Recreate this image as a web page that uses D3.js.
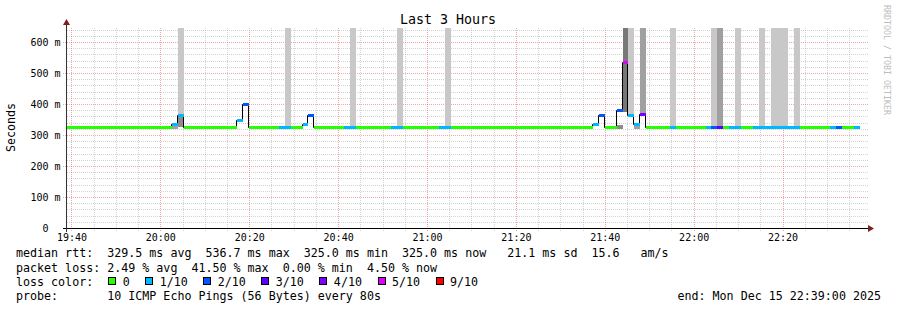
<!DOCTYPE html>
<html>
<head>
<meta charset="utf-8">
<script src="https://cdn.jsdelivr.net/npm/d3@7/dist/d3.min.js"></script>
<style>
  body { margin: 0; background: #fff; }
  svg { display: block; }
  text { font-family: "DejaVu Sans Mono", monospace; white-space: pre; fill: #000; }
</style>
</head>
<body>
<svg id="chart"></svg>
<script>
var width = 897;
var height = 310;

// smokeping probe, one step = 80 s, 10 pings per step
var stepSeconds = 80;
var firstStep = new Date(2025, 11, 15, 19, 38, 40);
var viewStart = new Date(2025, 11, 15, 19, 39, 0);
var viewEnd = new Date(2025, 11, 15, 22, 39, 0);

// median rtt per step (seconds)
var median = [
  .325,.325,.325,.325,.325,.325,.325,.325,.325,.325,
  .325,.325,.325,.325,.325,.325,.325,.325,.335,.3635,
  .325,.325,.325,.325,.325,.325,.325,.325,.325,.347,
  .401,.325,.325,.325,.325,.325,.325,.325,.325,.325,
  .337,.365,.325,.325,.325,.325,.325,.325,.325,.325,
  .325,.325,.325,.325,.325,.325,.325,.325,.325,.325,
  .325,.325,.325,.325,.325,.325,.325,.325,.325,.325,
  .325,.325,.325,.325,.325,.325,.325,.325,.325,.325,
  .325,.325,.325,.325,.325,.325,.325,.325,.325,.336,
  .365,.325,.325,.380,.5367,.365,.336,.367,.325,.325,
  .325,.325,.325,.325,.325,.325,.325,.325,.325,.325,
  .325,.325,.325,.325,.325,.325,.325,.325,.325,.325,
  .325,.325,.325,.325,.325,.325,.325,.325,.325,.325,
  .325,.325,.325,.325
];

// lost pings per step (out of 10)
var loss = [
  0,0,0,0,0,0,0,0,0,0,
  0,0,0,0,0,0,0,0,1,1,
  0,0,0,0,0,0,0,0,0,1,
  2,0,0,0,0,0,1,1,0,0,
  1,2,0,0,0,0,0,1,1,0,
  0,0,0,0,0,1,1,0,0,0,
  0,0,0,1,1,0,0,0,0,0,
  0,0,0,0,0,0,0,0,0,0,
  0,0,0,0,0,0,0,0,0,1,
  2,0,0,2,5,1,1,4,0,0,
  0,0,1,0,0,0,0,0,1,2,
  3,0,1,1,0,0,1,1,1,1,
  1,1,1,1,0,0,0,0,0,1,
  2,0,0,1
];

// smoke: [step, low, high, density]
var smoke = [
  [18, .320, .331, 1],
  [19, .325, .358, 2],
  [19, .3635, 1, 0],
  [37, .325, 1, 0],
  [48, .325, 1, 0],
  [56, .325, 1, 0],
  [64, .325, 1, 0],
  [93, .320, .331, 2],
  [94, .374, 1, 3],
  [95, .365, 1, 0],
  [96, .320, .331, 1],
  [97, .367, 1, 1],
  [102, .325, 1, 0],
  [109, .325, 1, 0],
  [110, .325, 1, 1],
  [113, .325, 1, 0],
  [117, .325, 1, 0],
  [119, .325, 1, 0],
  [120, .325, 1, 0],
  [121, .325, 1, 0],
  [123, .325, 1, 0]
];
var smokeGrays = ["#c8c8c8", "#a0a0a0", "#8c8c8c", "#787878"];

var lossSteps = [0, 1, 2, 3, 4, 5, 9];
var lossLabels = ["0", "1/10", "2/10", "3/10", "4/10", "5/10", "9/10"];
var lossColors = ["#26ff00", "#00b8ff", "#0059ff", "#5e00ff", "#7e00ff", "#dd00ff", "#ff0000"];

var yTickValues = [0, .1, .2, .3, .4, .5, .6];
var yTickLabels = ["0  ", "100 m", "200 m", "300 m", "400 m", "500 m", "600 m"];

var title = "Last 3 Hours";
var yTitle = "Seconds";
var rttLine = "median rtt:  329.5 ms avg  536.7 ms max  325.0 ms min  325.0 ms now   21.1 ms sd  15.6   am/s";
var lossLine = "packet loss: 2.49 % avg  41.50 % max  0.00 % min  4.50 % now";
var colorLine = "loss color:";
var probeLine = "probe:       10 ICMP Echo Pings (56 Bytes) every 80s";
var endLine = "end: Mon Dec 15 22:39:00 2025";
var watermark = "RRDTOOL / TOBI OETIKER";

var minorGrid = "rgba(140,140,140,0.38)";
var majorGrid = "rgba(232,80,80,0.5)";

var svg = d3.select("#chart")
    .attr("width", width)
    .attr("height", height);

svg.append("rect")
    .attr("width", width)
    .attr("height", height)
    .attr("fill", "#fff");

var x = d3.scaleTime().domain([viewStart, viewEnd]).range([67, 867]);
var y = d3.scaleLinear().domain([0, 0.645]).range([228, 28]);
var lossColor = d3.scaleThreshold().domain(lossSteps.slice(1)).range(lossColors);
var smokeColor = d3.scaleOrdinal().domain([0, 1, 2, 3]).range(smokeGrays);

function stepTime(i) { return d3.timeSecond.offset(firstStep, i * stepSeconds); }
function sx(i) { return Math.round(x(stepTime(i))); }
function py(v) { return Math.round(y(v)) + 0.5; }

// grid first, the smoke covers it
var grid = svg.append("g").attr("fill", "none").attr("stroke-width", 1).attr("stroke-dasharray", "1,1");
var minorY = y.ticks(32).filter(function(v) { return Math.round(v * 1000) % 100 != 0; });
var majorY = yTickValues.slice(1);
var minorX = x.ticks(d3.timeMinute.every(5)).filter(function(t) { return t.getMinutes() % 20 != 0; });
var majorX = x.ticks(d3.timeMinute.every(20));

grid.selectAll("line.my").data(minorY).enter().append("line")
    .attr("x1", 67).attr("x2", 869)
    .attr("y1", py).attr("y2", py)
    .attr("stroke", minorGrid);
grid.selectAll("line.mx").data(minorX).enter().append("line")
    .attr("x1", function(d) { return Math.round(x(d)) + 0.5; })
    .attr("x2", function(d) { return Math.round(x(d)) + 0.5; })
    .attr("y1", 28).attr("y2", 231)
    .attr("stroke", minorGrid);
grid.selectAll("line.My").data(majorY).enter().append("line")
    .attr("x1", 63).attr("x2", 869)
    .attr("y1", py).attr("y2", py)
    .attr("stroke", majorGrid);
grid.selectAll("line.Mx").data(majorX).enter().append("line")
    .attr("x1", function(d) { return Math.round(x(d)) + 0.5; })
    .attr("x2", function(d) { return Math.round(x(d)) + 0.5; })
    .attr("y1", 28).attr("y2", 232)
    .attr("stroke", majorGrid);

svg.append("clipPath").attr("id", "plot")
  .append("rect")
    .attr("x", 67).attr("y", 28)
    .attr("width", 800).attr("height", 200);

var plot = svg.append("g").attr("clip-path", "url(#plot)");

// smoke
plot.selectAll("rect.smoke")
    .data(smoke)
    .enter()
    .append("rect")
    .attr("class", "smoke")
    .attr("x", function(d) { return sx(d[0]); })
    .attr("width", function(d) { return sx(d[0] + 1) - sx(d[0]); })
    .attr("y", function(d) { return Math.round(y(d[2])); })
    .attr("height", function(d) { return Math.round(y(d[1])) - Math.round(y(d[2])); })
    .attr("fill", function(d) { return smokeColor(d[3]); })
    .attr("shape-rendering", "crispEdges");

// black median step line
var pts = median.map(function(v, i) { return [i, v]; });
pts.push([median.length, median[median.length - 1]]);
var stepLine = d3.line()
    .x(function(d) { return sx(d[0]) - 0.5; })
    .y(function(d) { return py(d[1]); })
    .curve(d3.curveStepAfter);

plot.append("path")
    .attr("d", stepLine(pts))
    .attr("fill", "none")
    .attr("stroke", "#000")
    .attr("stroke-width", 1);

// loss coloured median
plot.selectAll("line.med")
    .data(median)
    .enter()
    .append("line")
    .attr("class", "med")
    .attr("x1", function(d, i) { return sx(i); })
    .attr("x2", function(d, i) { return sx(i + 1); })
    .attr("y1", function(d) { return py(d); })
    .attr("y2", function(d) { return py(d); })
    .attr("stroke", function(d, i) { return lossColor(loss[i]); })
    .attr("stroke-width", 3);

// axes labels
var yAxis = d3.axisLeft(y)
    .tickValues(yTickValues)
    .tickFormat(function(d, i) { return yTickLabels[i]; })
    .tickSize(0)
    .tickPadding(6);
var gy = svg.append("g").attr("transform", "translate(66.5,0)").call(yAxis);
gy.select(".domain").remove();
gy.attr("font-size", "10px");
gy.selectAll("text").attr("dy", "0.36em");

var xAxis = d3.axisBottom(x)
    .ticks(d3.timeMinute.every(20))
    .tickFormat(d3.timeFormat("%H:%M"))
    .tickSize(0)
    .tickPadding(6);
var gx = svg.append("g").attr("transform", "translate(0,228)").call(xAxis);
gx.select(".domain").remove();
gx.attr("font-size", "10px");

// axis lines and arrows
svg.append("line")
    .attr("x1", 63).attr("x2", 869).attr("y1", 228.5).attr("y2", 228.5)
    .attr("stroke", "#000");
svg.append("line")
    .attr("x1", 66.5).attr("x2", 66.5).attr("y1", 232).attr("y2", 24)
    .attr("stroke", "#333");
svg.append("path")
    .attr("d", "M868,225L874,228.5L868,232Z")
    .attr("fill", "#7f1f1f");
svg.append("path")
    .attr("d", "M63,25L66.5,19L70,25Z")
    .attr("fill", "#7f1f1f");

// titles
svg.append("text")
    .attr("x", 448).attr("y", 24)
    .attr("text-anchor", "middle")
    .attr("font-size", "13.3px")
    .text(title);

svg.append("text")
    .attr("transform", "translate(15,127.5) rotate(-90)")
    .attr("text-anchor", "middle")
    .attr("font-size", "11.66px")
    .text(yTitle);

svg.append("text")
    .attr("transform", "translate(884,5) rotate(90)")
    .attr("font-size", "8.3px")
    .style("fill", "#bdbdbd")
    .text(watermark);

// legend
var colW = 7.02;
var legend = svg.append("g").attr("font-size", "11.66px");
legend.append("text").attr("x", 16).attr("y", 257.3).text(rttLine);
legend.append("text").attr("x", 16).attr("y", 271.5).text(lossLine);
legend.append("text").attr("x", 16).attr("y", 285.7).text(colorLine);
legend.append("text").attr("x", 16).attr("y", 300).text(probeLine);
legend.append("text").attr("x", 881).attr("y", 300).attr("text-anchor", "end").text(endLine);

var col = 13.15;
lossLabels.forEach(function(lab, k) {
  var bx = 16 + col * colW;
  legend.append("rect")
      .attr("x", Math.round(bx) + 0.5).attr("y", 277.5)
      .attr("width", 7).attr("height", 7)
      .attr("fill", lossColors[k])
      .attr("stroke", "#000");
  legend.append("text")
      .attr("x", 16 + (col + 2.05) * colW)
      .attr("y", 285.7)
      .text(lab);
  col += 2.05 + lab.length + 2.22;
});
</script>
</body>
</html>
